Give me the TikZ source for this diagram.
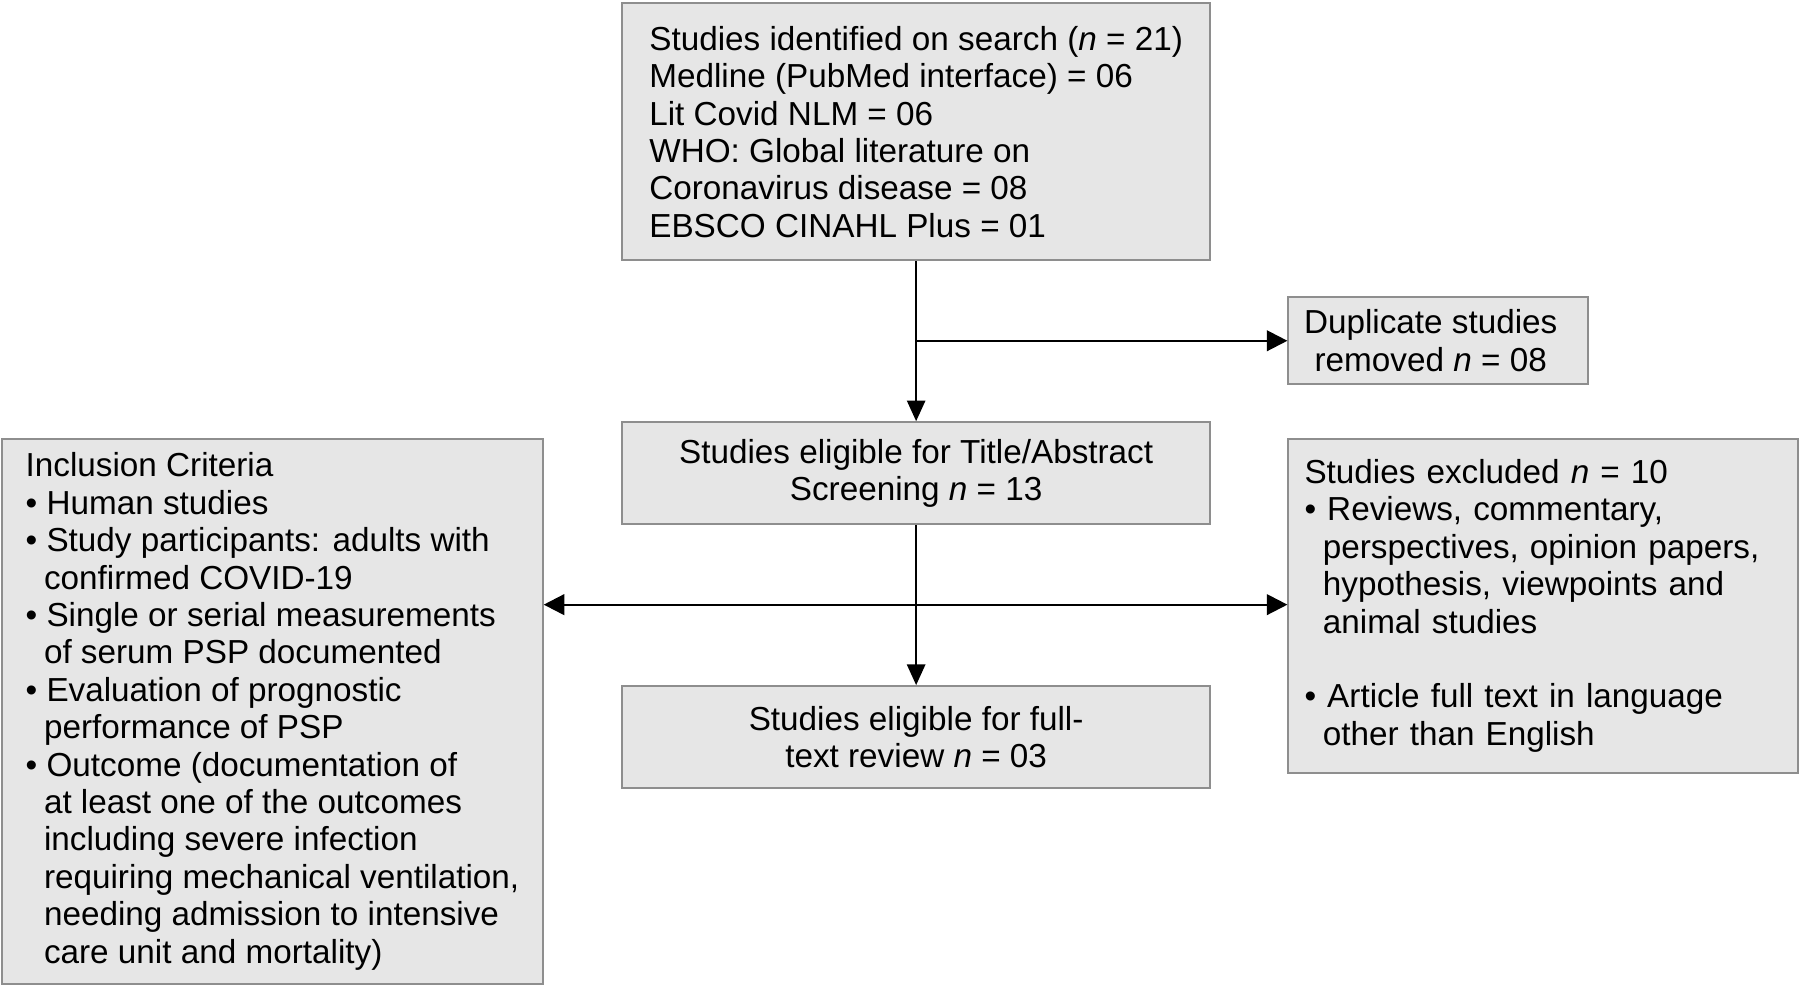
\documentclass[tikz,border=0pt]{standalone}
\usepackage{fontspec}
\setmainfont{Liberation Sans}
\usetikzlibrary{arrows.meta}
\definecolor{boxfill}{HTML}{E6E6E6}
\definecolor{boxline}{HTML}{8E8E8E}
\newcommand\myind{\hspace*{16pt}}
\begin{document}
\begin{tikzpicture}[x=1pt,y=-1pt,
  box/.style={draw=boxline, fill=boxfill, line width=1.8pt, inner sep=0pt,
    font=\fontsize{29}{32.6}\selectfont},
  vline/.style={line width=1.5pt, -{Triangle[length=18pt,width=16pt]}},
  hline/.style={line width=2pt, -{Triangle[length=18pt,width=18pt]}},
  hboth/.style={line width=2pt, {Triangle[length=18pt,width=18pt]}-{Triangle[length=18pt,width=18pt]}}]
\useasboundingbox (0,0) rectangle (1568,857.7);

\node[box, minimum width=513pt, minimum height=224pt, align=left] (search) at (798.5,115)
{Studies identified on search (\textit{n} = 21)\\
Medline (PubMed interface) = 06\\
Lit Covid NLM = 06\\
WHO: Global literature on\\
Coronavirus disease = 08\\
EBSCO CINAHL Plus = 01};

\node[box, minimum width=261pt, minimum height=76pt, align=center] (dup) at (1253.5,297)
{Duplicate studies\hspace*{13pt}\\ \rule{0pt}{24pt}removed \textit{n} = 08\hspace*{13pt}};

\node[box, minimum width=513pt, minimum height=89pt, align=center] (title) at (798.5,412.5)
{Studies eligible for Title/Abstract\\ Screening \textit{n} = 13};

\node[box, minimum width=513pt, minimum height=89pt, align=center] (full) at (798.5,642.5)
{Studies eligible for full-\\ text review \textit{n} = 03};

\node[box, minimum width=471pt, minimum height=475pt, align=left] (incl) at (237.5,620)
{Inclusion Criteria\\
\textbullet\ Human studies\\
\textbullet\ Study participants: adults with\\
\myind confirmed COVID-19\\
\textbullet\ Single or serial measurements\\
\myind of serum PSP documented\\
\textbullet\ Evaluation of prognostic\\
\myind performance of PSP\\
\textbullet\ Outcome (documentation of\\
\myind at least one of the outcomes\\
\myind including severe infection\\
\myind requiring mechanical ventilation,\\
\myind needing admission to intensive\\
\myind care unit and mortality)};

\node[box, minimum width=444pt, minimum height=291pt, inner xsep=14pt, text width=416pt, align=left] (excl) at (1345,528)
{Studies excluded \textit{n} = 10\\
\textbullet\ Reviews, commentary,\\
\myind perspectives, opinion papers,\\
\myind hypothesis, viewpoints and\\
\myind animal studies\\
~\\
\textbullet\ Article full text in language\\
\myind other than English};

\coordinate (b1) at (798,297);
\coordinate (b2) at (798,527);

\draw[vline] (search.south) -- (title.north);
\draw[hline] (b1) -- (dup.west);
\draw[vline] (title.south) -- (full.north);
\draw[hboth] (incl.east |- b2) -- (excl.west |- b2);
\end{tikzpicture}
\end{document}
